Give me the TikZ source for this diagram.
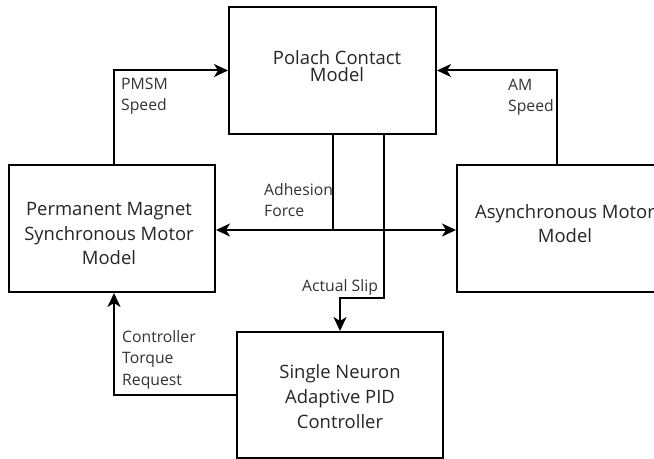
\documentclass[tikz,border=0pt]{standalone}
\usepackage{fontspec}
\setmainfont{Open Sans}
\usetikzlibrary{arrows.meta}
\begin{document}
\begin{tikzpicture}[x=1bp,y=-1bp,
  box/.style={draw=black, line width=2bp, rectangle, inner sep=0pt},
  boxtext/.style={font=\fontsize{18.5}{25}\selectfont, align=center, anchor=base, text=black!85, inner sep=0pt},
  lbl/.style={font=\fontsize{15.8}{21.5}\selectfont, align=left, anchor=base west, text=black!80, inner sep=0pt},
  tip/.tip={Stealth[length=14bp,width=13bp,inset=4bp]},
  conn/.style={line width=2bp, -tip},
  plainline/.style={line width=2bp}]
\clip (0,0) rectangle (654,459);
\fill[white] (0,0) rectangle (654,459);
% boxes
\node[box, minimum width=207bp, minimum height=127bp] (pol) at (332.5,70.5) {};
\node[box, minimum width=206bp, minimum height=127bp] (pmsm) at (112,228.5) {};
\node[box, minimum width=206bp, minimum height=127bp] (am) at (560,228.5) {};
\node[box, minimum width=206bp, minimum height=125.5bp] (sn) at (340,394.75) {};
% box texts (anchored at the baseline of the last line)
\node[boxtext, font=\fontsize{18.5}{18}\selectfont] (poltxt) at (337,82) {Polach Contact\\Model};
\node[boxtext] (pmsmtxt) at (109,265) {Permanent Magnet\\Synchronous Motor\\Model};
\node[boxtext] (amtxt) at (565,243) {Asynchronous Motor\\Model};
\node[boxtext] (sntxt) at (340,428) {Single Neuron\\Adaptive PID\\Controller};
% connectors
\draw[conn] ([xshift=2bp]pmsm.north) |- (pol.west);
\draw[conn] ([xshift=-3bp]am.north) |- (pol.east);
\coordinate (adh) at (332.5,230);
\draw[plainline] (pol.south) -- (adh);
\draw[line width=2bp, tip-tip] (pmsm.east |- adh) -- (am.west |- adh);
\coordinate (slip) at (384,298);
\draw[conn] (pol.south -| slip) -- (slip) -| (sn.north);
\draw[conn] (sn.west) -| ([xshift=2bp]pmsm.south);
% labels
\node[lbl] (l1) at (121,111) {PMSM\\Speed};
\node[lbl] (l2) at (508,112) {AM\\Speed};
\node[lbl] (l3) at (264,217) {Adhesion\\Force};
\node[lbl] (l4) at (302,292) {Actual Slip};
\node[lbl] (l5) at (122,385) {Controller\\Torque\\Request};
\end{tikzpicture}
\end{document}
